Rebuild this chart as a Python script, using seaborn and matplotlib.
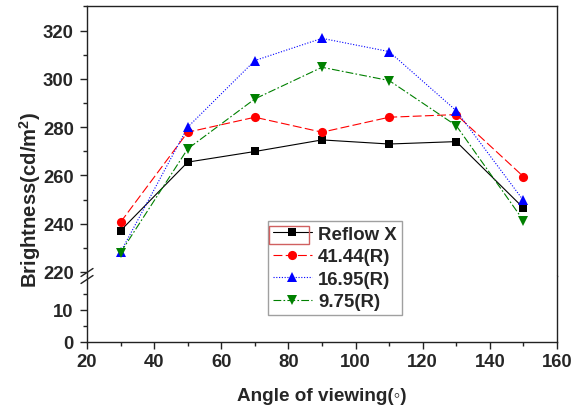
import numpy as np
import pandas as pd
import matplotlib
matplotlib.use("Agg")
import matplotlib.pyplot as plt
from matplotlib.patches import Rectangle
from matplotlib.lines import Line2D
import seaborn as sns

# Viewing angle (degrees) and measured brightness (cd/m^2) for each sample
angles = [30, 50, 70, 90, 110, 130, 150]
reflow_x = [237.1, 265.5, 269.9, 274.7, 273.0, 274.0, 246.5]
r_41_44 = [240.6, 277.9, 284.1, 277.9, 284.1, 285.2, 259.5]
r_16_95 = [228.2, 280.0, 307.6, 316.8, 311.3, 286.8, 249.6]
r_9_75 = [228.0, 271.0, 291.7, 304.8, 299.3, 280.6, 241.3]

series_names = ["Reflow X", "41.44(R)", "16.95(R)", "9.75(R)"]
x_ticks = [20, 40, 60, 80, 100, 120, 140, 160]
upper_ticks = [220, 240, 260, 280, 300, 320]
lower_ticks = [0, 10]

df = pd.concat([
    pd.DataFrame({"angle": angles, "brightness": vals, "sample": name})
    for name, vals in zip(series_names, [reflow_x, r_41_44, r_16_95, r_9_75])
], ignore_index=True)

sns.set_style("ticks")
plt.rcParams["font.family"] = ["Liberation Sans", "DejaVu Sans"]
plt.rcParams["font.weight"] = "bold"
plt.rcParams["axes.labelweight"] = "bold"
plt.rcParams["mathtext.fontset"] = "custom"
plt.rcParams["mathtext.rm"] = "Liberation Sans:bold"
plt.rcParams["mathtext.default"] = "rm"

palette = {"Reflow X": "#000000", "41.44(R)": "#ff0000",
           "16.95(R)": "#0000ff", "9.75(R)": "#008000"}
markers = {"Reflow X": "s", "41.44(R)": "o", "16.95(R)": "^", "9.75(R)": "v"}
dashes = {"Reflow X": "", "41.44(R)": (8, 3), "16.95(R)": (1, 1.5),
          "9.75(R)": (7, 2, 1.5, 2)}
msizes = {"Reflow X": 6.0, "41.44(R)": 6.6, "16.95(R)": 7.0, "9.75(R)": 7.0}

W, H = 583, 410
fig = plt.figure(figsize=(W / 100, H / 100), dpi=100)
left, right = 87 / W, 557 / W
y_top, y_mid, y_bot = 7, 277, 343
ax_hi = fig.add_axes([left, (H - y_mid) / H, right - left, (y_mid - y_top) / H])
ax_lo = fig.add_axes([left, (H - y_bot) / H, right - left, (y_bot - y_mid) / H])

sns.lineplot(data=df, x="angle", y="brightness", hue="sample", style="sample",
             hue_order=series_names, style_order=series_names,
             palette=palette, markers=markers, dashes=dashes,
             linewidth=0.8, markeredgewidth=0, legend=False, ax=ax_hi)
for line, name in zip(ax_hi.lines, series_names):
    line.set_markersize(msizes[name])
    line.set_label(name)

spine_c = "#222222"
for ax in (ax_hi, ax_lo):
    ax.set_xlim(20, 160)
    for s in ax.spines.values():
        s.set_color(spine_c)
        s.set_linewidth(1.0)
    ax.set_xlabel("")
    ax.set_ylabel("")
    ax.tick_params(axis="both", which="major", direction="out", length=5,
                   width=1, color=spine_c, labelsize=13.3)
    ax.tick_params(axis="y", which="major", pad=4.5)
    ax.tick_params(axis="both", which="minor", direction="out", length=3,
                   width=1, color=spine_c)

ax_hi.set_ylim(218.3, 330.2)
ax_hi.set_yticks(upper_ticks)
ax_hi.set_yticks([230, 250, 270, 290, 310, 330], minor=True)
ax_hi.spines["bottom"].set_visible(False)
ax_hi.tick_params(axis="x", which="both", bottom=False, labelbottom=False)

ax_lo.set_ylim(0, 20.6)
ax_lo.set_yticks(lower_ticks)
ax_lo.set_yticks([5, 15], minor=True)
ax_lo.spines["top"].set_visible(False)
ax_lo.set_xticks(x_ticks)
ax_lo.set_xticks(np.arange(30, 160, 20), minor=True)
ax_lo.tick_params(axis="x", which="major", pad=3)

for lab in ax_hi.get_yticklabels() + ax_lo.get_yticklabels() + ax_lo.get_xticklabels():
    lab.set_fontweight("bold")

# axis break marks on the left spine
yb = 1 - y_mid / H
for dy in (-3.5, 3.5):
    fig.add_artist(Line2D([left - 6 / W, left + 6 / W],
                          [yb + (dy - 4) / H, yb + (dy + 4) / H],
                          color=spine_c, lw=1.0))

fig.text(322 / W, 1 - 397 / H, "Angle of viewing(\u25e6)", ha="center",
         va="center", fontsize=13.6, fontweight="bold",
         family=["Liberation Sans", "DejaVu Sans"])
fig.text(30 / W, 1 - 200 / H, "Brightness(cd/m$^{2}$)", ha="center",
         va="center", rotation=90, fontsize=14.6, fontweight="bold")

leg = fig.legend(handles=ax_hi.lines[:4], labels=series_names,
                 loc="lower left", bbox_to_anchor=(268 / W, 1 - 316 / H),
                 frameon=True, fancybox=False,
                 handlelength=2.1, handletextpad=0.35, labelspacing=0.3,
                 borderpad=0.25, borderaxespad=0, prop={"weight": "bold", "size": 13.4})
leg.get_frame().set_edgecolor("#888888")
leg.get_frame().set_linewidth(1.0)

# highlight box around the first legend entry
fig.add_artist(Rectangle((269 / W, 1 - 245 / H), 40 / W, 18 / H,
                         fill=False, edgecolor="#d06060", lw=1.0, zorder=10))

fig.savefig("out.png", dpi=100)
